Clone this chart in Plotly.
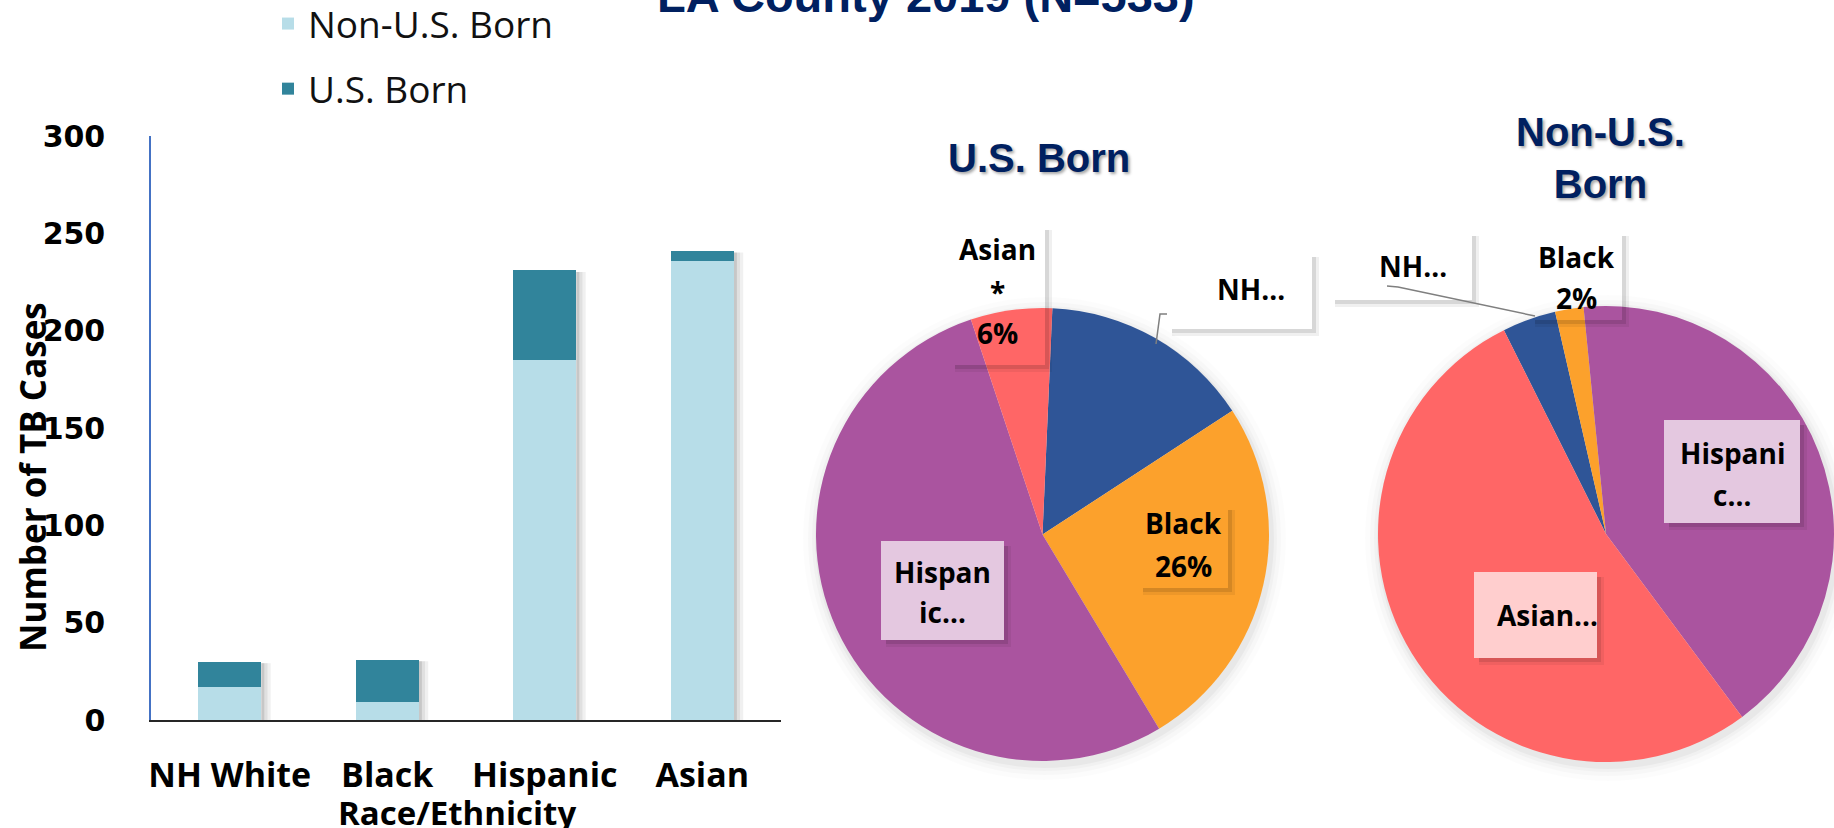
import plotly.graph_objects as go

# ---------------- data ----------------
categories = ["NH White", "Black", "Hispanic", "Asian"]
non_us_born = [17, 9, 185, 236]
us_born = [13, 22, 46, 5]
y_ticks = [0, 50, 100, 150, 200, 250, 300]

series_names = ["Non-U.S. Born", "U.S. Born"]
bar_colors = ["#B7DDE8", "#31849B"]
pie_colors = ["#2F5597", "#FCA12C", "#AA549F", "#FF6666"]  # NH White, Black, Hispanic, Asian

W, H = 1834, 828


def px(x):
    return x / W


def py(y):
    return 1 - y / H


fig = go.Figure()

# ---------------- stacked bars ----------------
fig.add_trace(go.Bar(x=categories, y=non_us_born, name=series_names[0],
                     marker=dict(color=bar_colors[0], line=dict(width=0)),
                     legendgroup="a"))
fig.add_trace(go.Bar(x=categories, y=us_born, name=series_names[1],
                     marker=dict(color=bar_colors[1], line=dict(width=0)),
                     legendgroup="b"))

# ---------------- pies ----------------
fig.add_trace(go.Pie(values=us_born, labels=categories, sort=False,
                     direction="clockwise", rotation=2.5,
                     marker=dict(colors=pie_colors, line=dict(width=0)),
                     textinfo="none", showlegend=False, name="U.S. Born",
                     domain=dict(x=[px(816), px(1269)], y=[py(761), py(308)])))
fig.add_trace(go.Pie(values=non_us_born, labels=categories, sort=False,
                     direction="clockwise", rotation=-26.6,
                     marker=dict(colors=pie_colors, line=dict(width=0)),
                     textinfo="none", showlegend=False, name="Non-U.S. Born",
                     domain=dict(x=[px(1378), px(1834)], y=[py(762), py(306)])))

shapes = []
annotations = []

# soft shadows around pies
for (cx, cy, r) in [(1042.5, 534.5, 226.5), (1606, 534, 228)]:
    for grow, alpha in [(15, 0.012), (10, 0.018), (6, 0.025), (3, 0.035)]:
        shapes.append(dict(type="circle", xref="paper", yref="paper", layer="below",
                           x0=px(cx - r - grow + 2), x1=px(cx + r + grow + 2),
                           y0=py(cy + r + grow + 4), y1=py(cy - r - grow + 4),
                           fillcolor=f"rgba(0,0,0,{alpha})", line=dict(width=0)))

# soft shadow on the right side of each bar (from the bar totals)
totals = [a + b for a, b in zip(non_us_born, us_born)]
for i, t in enumerate(totals):
    for k, alpha in [(0, 0.22), (1, 0.12), (2, 0.06)]:
        shapes.append(dict(type="rect", xref="x", yref="y", layer="below",
                           x0=i + 0.2 + k * 0.02, x1=i + 0.22 + k * 0.02, y0=0, y1=t - 0.8,
                           fillcolor=f"rgba(0,0,0,{alpha})", line=dict(width=0)))


def box(x0, y0, x1, y1, fill="rgba(0,0,0,0)"):
    for d, a in [(7, 0.06), (4, 0.1)]:
        shapes.append(dict(type="rect", xref="paper", yref="paper", layer="above",
                           x0=px(x1), x1=px(x1 + d), y0=py(y1 + d), y1=py(y0 + 5),
                           fillcolor=f"rgba(0,0,0,{a})", line=dict(width=0)))
        shapes.append(dict(type="rect", xref="paper", yref="paper", layer="above",
                           x0=px(x0 + 5), x1=px(x1), y0=py(y1 + d), y1=py(y1),
                           fillcolor=f"rgba(0,0,0,{a})", line=dict(width=0)))
    shapes.append(dict(type="rect", xref="paper", yref="paper", layer="above",
                       x0=px(x0), x1=px(x1), y0=py(y1), y1=py(y0),
                       fillcolor=fill, line=dict(width=0)))


def txt(s, x, y, size=28, family="Open Sans", color="#000000", bold=True, **kw):
    annotations.append(dict(text=s, x=px(x), y=py(y), xref="paper", yref="paper",
                            xanchor="center", yanchor="middle", showarrow=False,
                            font=dict(family=family, size=size, color=color,
                                      weight="bold" if bold else "normal", **kw)))


pale = "rgba(255,255,255,0.68)"

# U.S. Born pie labels
box(950, 225, 1045, 365)
txt("Asian", 997, 249)
txt("*", 997, 292)
txt("6%", 997, 333)
box(1167, 252, 1312, 329, "#FFFFFF")
txt("NH…", 1251, 289)
box(1138, 505, 1228, 588)
txt("Black", 1183, 523)
txt("26%", 1183, 566)
box(881, 541, 1004, 640, pale)
txt("Hispan", 942, 572)
txt("ic…", 942, 612)

# Non-U.S. Born pie labels
box(1330, 231, 1472, 300, "#FFFFFF")
txt("NH…", 1413, 266)
box(1530, 231, 1622, 320)
txt("Black", 1576, 257)
txt("2%", 1576, 298)
box(1664, 420, 1800, 523, pale)
txt("Hispani", 1732, 453)
txt("c…", 1732, 495)
box(1474, 572, 1597, 658, pale)
txt("Asian…", 1547, 615)

# leader lines
shapes.append(dict(type="path", xref="paper", yref="paper", layer="above",
                   path=f"M{px(1167)},{py(314)} L{px(1160)},{py(314)} L{px(1156)},{py(344)}",
                   line=dict(color="#7F7F7F", width=1.5)))
shapes.append(dict(type="path", xref="paper", yref="paper", layer="above",
                   path=f"M{px(1387)},{py(286)} L{px(1398)},{py(287)} L{px(1535)},{py(316)}",
                   line=dict(color="#7F7F7F", width=1.5)))

# titles
shadow = "2px 2px 3px rgba(0,0,0,0.35)"
txt("LA County 2019 (N=533)", 926, -4, size=47, family="Liberation Sans, Arial",
    color="#002060")
txt("U.S. Born", 1039, 158, size=40, family="Liberation Sans, Arial",
    color="#002060", shadow=shadow)
txt("Non-U.S.<br>Born", 1600, 158, size=40, family="Liberation Sans, Arial",
    color="#002060", shadow=shadow)

# axis titles
annotations.append(dict(text="Number of TB Cases", x=px(32), y=py(477), xref="paper",
                        yref="paper", xanchor="center", yanchor="middle",
                        showarrow=False, textangle=-90,
                        font=dict(family="Open Sans", size=35, color="#000000",
                                  weight="bold")))
txt("Race/Ethnicity", 457, 812, size=33)

fig.update_layout(
    width=W, height=H,
    margin=dict(l=0, r=0, t=0, b=0, autoexpand=False),
    paper_bgcolor="#FFFFFF", plot_bgcolor="rgba(0,0,0,0)",
    barmode="stack", bargap=0.6,
    showlegend=True,
    legend=dict(x=px(268), y=py(-7), xanchor="left", yanchor="top",
                traceorder="grouped", tracegroupgap=14,
                font=dict(family="Open Sans", size=37, color="#111111"),
                bgcolor="rgba(0,0,0,0)"),
    xaxis=dict(domain=[px(151), px(781)], type="category", automargin=False,
               showline=True, linecolor="#262626", linewidth=2,
               showgrid=False, zeroline=False, ticks="",
               ticklabelstandoff=24,
               tickfont=dict(family="Open Sans", size=34, color="#000000", weight="bold")),
    yaxis=dict(domain=[py(720), py(136)], range=[0, 300], automargin=False,
               tickvals=y_ticks, showline=True, linecolor="#4472C4", linewidth=1.5,
               showgrid=False, zeroline=False, ticks="",
               ticklabelstandoff=38,
               tickfont=dict(family="DejaVu Sans", size=30, color="#000000", weight="bold")),
    shapes=shapes,
    annotations=annotations,
)

fig.write_html("out.html", config={"displayModeBar": False},
               post_script="document.body.style.margin='0';")
